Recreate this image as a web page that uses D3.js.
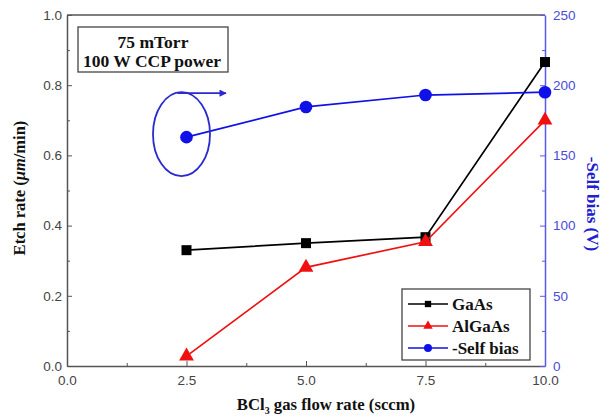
<!DOCTYPE html>
<html><head><meta charset="utf-8">
<script src="https://cdn.jsdelivr.net/npm/d3@7"></script>
<style>body{margin:0;background:#fff}svg{display:block}</style>
</head><body>
<svg id="c" width="614" height="419"></svg>
<script>
const flowRates = [2.5, 5.0, 7.5, 10.0];
const gaas = [0.33, 0.35, 0.367, 0.866];
const algaas = [0.028, 0.281, 0.354, 0.70];
const selfBias = [163, 184.5, 193, 195];
const xTicks = [0, 2.5, 5, 7.5, 10];
const yTicks = [0, 0.2, 0.4, 0.6, 0.8, 1.0];
const yRTicks = [0, 50, 100, 150, 200, 250];
const legendNames = ["GaAs", "AlGaAs", "-Self bias"];

const svg = d3.select("#c");
const L = 67, R = 545, T = 15, B = 366;
const x = d3.scaleLinear().domain([0, 10]).range([L, R]);
const y = d3.scaleLinear().domain([0, 1]).range([B, T]);
const yR = d3.scaleLinear().domain([0, 250]).range([B, T]);

const axisCol = "#555", blueAx = "#5a5ae6", tickTxt = "#444";
const serif = "'Liberation Serif','Times New Roman',serif";
const sans = "'Liberation Sans',Arial,sans-serif";

// frame top
svg.append("line").attr("x1", L).attr("x2", R).attr("y1", T).attr("y2", T).attr("stroke", axisCol).attr("stroke-width", 1.5);

function styleAxis(g, col) {
  g.selectAll(".domain").attr("stroke", col).attr("stroke-width", 1.5);
  g.selectAll("line").attr("stroke", col);
}
// bottom axis
const gx = svg.append("g").attr("transform", `translate(0,${B})`)
  .call(d3.axisBottom(x).tickValues(xTicks).tickFormat(d3.format(".1f")).tickSizeInner(-5).tickSizeOuter(0));
const gx2 = svg.append("g").attr("transform", `translate(0,${B})`)
  .call(d3.axisBottom(x).tickValues([1.25, 3.75, 6.25, 8.75]).tickFormat("").tickSizeInner(-3).tickSizeOuter(0));
gx2.select(".domain").remove();
// left axis
const gy = svg.append("g").attr("transform", `translate(${L},0)`)
  .call(d3.axisLeft(y).tickValues(yTicks).tickFormat(d3.format(".1f")).tickSizeInner(-5).tickSizeOuter(0));
const gy2 = svg.append("g").attr("transform", `translate(${L},0)`)
  .call(d3.axisLeft(y).tickValues([0.1, 0.3, 0.5, 0.7, 0.9]).tickFormat("").tickSizeInner(-3).tickSizeOuter(0));
gy2.select(".domain").remove();
// right axis
const gr = svg.append("g").attr("transform", `translate(${R},0)`)
  .call(d3.axisRight(yR).tickValues(yRTicks).tickFormat(d3.format("d")).tickSizeInner(-5).tickSizeOuter(0));
const gr2 = svg.append("g").attr("transform", `translate(${R},0)`)
  .call(d3.axisRight(yR).tickValues([25, 75, 125, 175, 225]).tickFormat("").tickSizeInner(-3).tickSizeOuter(0));
gr2.select(".domain").remove();

[gx, gx2, gy, gy2].forEach(g => styleAxis(g, axisCol));
[gr, gr2].forEach(g => styleAxis(g, blueAx));
[gx, gy].forEach(g => g.selectAll("text").attr("fill", tickTxt).style("font-family", sans).style("font-size", "13.5px"));
gx.selectAll("text").attr("dy", "1.2em");
gy.selectAll("text").attr("x", -5);
gr.selectAll("text").attr("fill", "#4b4bd8").attr("x", 8).style("font-family", sans).style("font-size", "13.5px");

// axis titles
svg.append("text").attr("transform", `translate(25,188) rotate(-90)`).attr("text-anchor", "middle")
  .style("font-family", serif).style("font-weight", "bold").style("font-size", "16.5px").attr("fill", "#111")
  .html('Etch rate (<tspan font-style="italic">μm</tspan>/min)');
svg.append("text").attr("transform", `translate(587,204) rotate(90)`).attr("text-anchor", "middle")
  .style("font-family", serif).style("font-weight", "bold").style("font-size", "17px").attr("fill", "#2020d0")
  .text("-Self bias (V)");
svg.append("text").attr("x", 326).attr("y", 410).attr("text-anchor", "middle")
  .style("font-family", serif).style("font-weight", "bold").style("font-size", "16.7px").attr("fill", "#111")
  .html('BCl<tspan font-size="10px" dy="4">3</tspan><tspan dy="-4"> gas flow rate (sccm)</tspan>');

// series
const series = [
  {name: legendNames[0], vals: gaas, sc: y, col: "#000", sym: d3.symbolSquare, size: 100},
  {name: legendNames[1], vals: algaas, sc: y, col: "#f01010", sym: d3.symbolTriangle, size: 95},
  {name: legendNames[2], vals: selfBias, sc: yR, col: "#1010e8", sym: d3.symbolCircle, size: 125}
];
series.forEach(s => {
  const pts = flowRates.map((f, i) => [x(f), s.sc(s.vals[i])]);
  svg.append("path").attr("d", d3.line()(pts)).attr("fill", "none").attr("stroke", s.col).attr("stroke-width", 1.7);
  svg.selectAll(null).data(pts).join("path")
    .attr("transform", d => `translate(${d[0]},${d[1]})`)
    .attr("d", d3.symbol().type(s.sym).size(s.size)).attr("fill", s.col);
});

// annotation box
svg.append("rect").attr("x", 78).attr("y", 27).attr("width", 150).attr("height", 45)
  .attr("fill", "#fff").attr("stroke", "#444").attr("stroke-width", 1.3);
svg.append("text").attr("x", 153).attr("y", 48).attr("text-anchor", "middle")
  .style("font-family", serif).style("font-weight", "bold").style("font-size", "17.5px").attr("fill", "#111").text("75 mTorr");
svg.append("text").attr("x", 152).attr("y", 67).attr("text-anchor", "middle")
  .style("font-family", serif).style("font-weight", "bold").style("font-size", "17.5px").attr("fill", "#111").text("100 W CCP power");

// ellipse + arrow annotation
const ecx = x(flowRates[0]) - 5, ecy = yR(selfBias[0]) - 3;
svg.append("ellipse").attr("cx", ecx).attr("cy", ecy).attr("rx", 28.5).attr("ry", 42)
  .attr("fill", "none").attr("stroke", "#2a2ad0").attr("stroke-width", 1.8);
svg.append("defs").append("marker").attr("id", "ah").attr("viewBox", "0 0 10 10").attr("refX", 9).attr("refY", 5)
  .attr("markerWidth", 5).attr("markerHeight", 4).attr("orient", "auto")
  .append("path").attr("d", "M0,0L10,5L0,10Z").attr("fill", "#2a2ad0");
svg.append("line").attr("x1", ecx - 4).attr("y1", ecy - 41).attr("x2", 226).attr("y2", ecy - 41)
  .attr("stroke", "#2a2ad0").attr("stroke-width", 1.8).attr("marker-end", "url(#ah)");

// legend
const lg = svg.append("g");
lg.append("rect").attr("x", 402).attr("y", 289).attr("width", 128).attr("height", 71)
  .attr("fill", "#fff").attr("stroke", "#444").attr("stroke-width", 1.3);
series.forEach((s, i) => {
  const ry = 304 + i * 22;
  lg.append("line").attr("x1", 408).attr("x2", 448).attr("y1", ry).attr("y2", ry).attr("stroke", s.col).attr("stroke-width", 1.7);
  lg.append("path").attr("transform", `translate(428,${ry})`).attr("d", d3.symbol().type(s.sym).size(s.size * 0.4)).attr("fill", s.col);
  lg.append("text").attr("x", 452).attr("y", ry + 6).style("font-family", serif).style("font-weight", "bold")
    .style("font-size", "17px").attr("fill", "#111").text(s.name);
});
</script>
</body></html>
